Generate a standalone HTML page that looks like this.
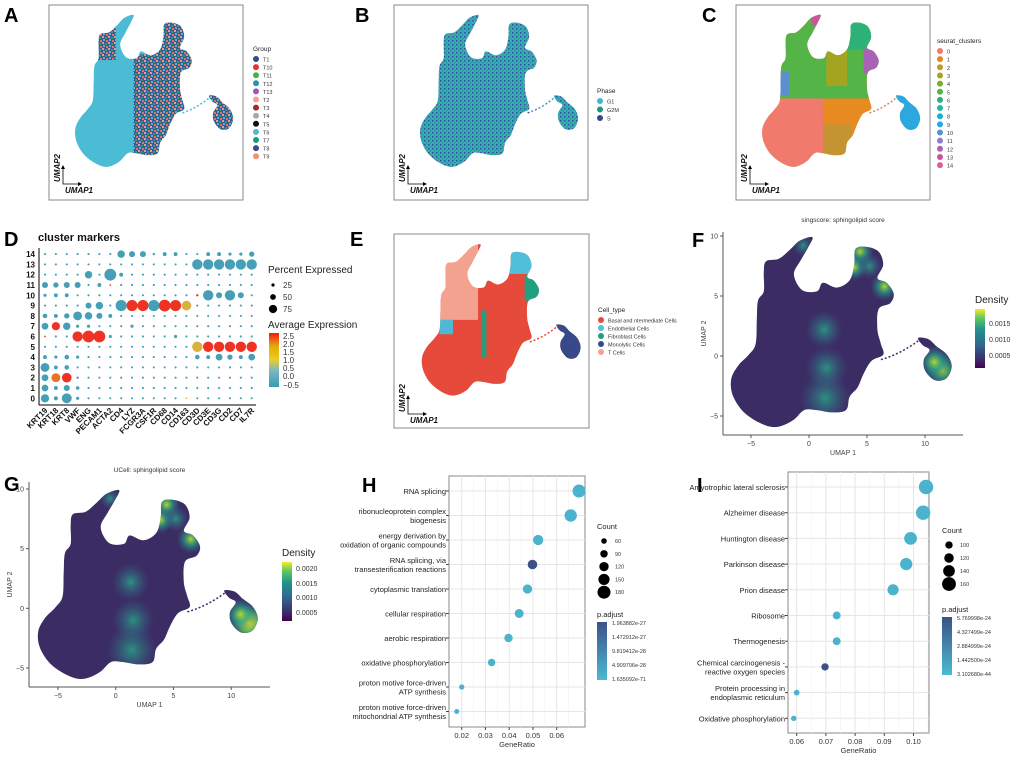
<!DOCTYPE html>
<html><head><meta charset="utf-8"><style>
body{margin:0;background:#fff;}
svg{display:block;font-family:"Liberation Sans",Arial,sans-serif;}
</style></head><body>
<svg id="fig" width="1020" height="757" viewBox="0 0 1020 757" xmlns="http://www.w3.org/2000/svg">
<defs>
<pattern id="patA" width="6" height="6" patternUnits="userSpaceOnUse">
<rect width="6" height="6" fill="#3a5a96"/><rect x="0" y="0" width="2" height="2" fill="#f29a80"/><rect x="3" y="1" width="2" height="2" fill="#2a9d7e"/><rect x="1" y="3" width="2" height="2" fill="#4bb8d0"/><rect x="4" y="4" width="2" height="2" fill="#e8705f"/><rect x="3" y="3" width="1" height="1" fill="#a02b2e"/>
</pattern>
<pattern id="patB" width="4" height="4" patternUnits="userSpaceOnUse">
<rect width="4" height="4" fill="#3aa8c4"/><rect x="0" y="0" width="1.5" height="1.5" fill="#2e5590"/><rect x="2" y="2" width="1.5" height="1.5" fill="#259a8a"/>
</pattern>
<radialGradient id="hot"><stop offset="0" stop-color="#b8de29" stop-opacity="0.95"/><stop offset="0.45" stop-color="#2aa386" stop-opacity="0.7"/><stop offset="1" stop-color="#2d708e" stop-opacity="0"/></radialGradient>
<radialGradient id="warm"><stop offset="0" stop-color="#2aa386" stop-opacity="0.85"/><stop offset="1" stop-color="#33638d" stop-opacity="0"/></radialGradient>
<radialGradient id="hotG"><stop offset="0" stop-color="#fde725"/><stop offset="0.5" stop-color="#5ec962" stop-opacity="0.8"/><stop offset="1" stop-color="#21918c" stop-opacity="0"/></radialGradient>
<linearGradient id="viridis" x1="0" y1="1" x2="0" y2="0"><stop offset="0" stop-color="#440154"/><stop offset="0.15" stop-color="#3b2f6b"/><stop offset="0.4" stop-color="#31688e"/><stop offset="0.65" stop-color="#21918c"/><stop offset="0.85" stop-color="#5ec962"/><stop offset="1" stop-color="#fde725"/></linearGradient>
<linearGradient id="zissou" x1="0" y1="1" x2="0" y2="0"><stop offset="0" stop-color="#3b9ab2"/><stop offset="0.3" stop-color="#78b7c5"/><stop offset="0.5" stop-color="#ebcc2a"/><stop offset="0.75" stop-color="#e1af00"/><stop offset="0.85" stop-color="#ec7020"/><stop offset="1" stop-color="#f21a00"/></linearGradient>
<linearGradient id="padj" x1="0" y1="1" x2="0" y2="0"><stop offset="0" stop-color="#4bbad3"/><stop offset="1" stop-color="#3b5287"/></linearGradient>
</defs>
<g id="root"></g>
</svg>
<script>
// ---------- chart data ----------
const genes = ["KRT19","KRT18","KRT8","VWF","ENG","PECAM1","ACTA2","CD4","LYZ","FCGR3A","CSF1R","CD68","CD14","CD163","CD3D","CD3E","CD3G","CD2","CD7","IL7R"];
const clusters = [0,1,2,3,4,5,6,7,8,9,10,11,12,13,14];
const pctSpec = [
 {KRT19:50,KRT18:22,KRT8:62,VWF:15,CD163:5},
 {KRT19:40,KRT18:20,KRT8:35,VWF:18},
 {KRT19:40,KRT18:55,KRT8:60,VWF:10},
 {KRT19:55,KRT18:20,KRT8:25},
 {KRT19:20,KRT18:15,KRT8:25,VWF:15,CD3D:25,CD3E:20,CD3G:40,CD2:30,CD7:20,IL7R:40},
 {CD3D:65,CD3E:65,CD3G:65,CD2:65,CD7:65,IL7R:65},
 {KRT19:5,VWF:65,ENG:75,PECAM1:75,ACTA2:15,CD14:15},
 {KRT19:40,KRT18:50,KRT8:45,VWF:15,ENG:15,LYZ:15},
 {KRT19:25,KRT18:20,KRT8:30,VWF:55,ENG:45,PECAM1:35,ACTA2:20},
 {ENG:35,PECAM1:45,CD4:70,LYZ:70,FCGR3A:70,CSF1R:70,CD68:75,CD14:70,CD163:60},
 {KRT19:15,KRT18:20,KRT8:20,CD3D:10,CD3E:65,CD3G:35,CD2:65,CD7:35},
 {KRT19:35,KRT18:30,KRT8:35,VWF:35,PECAM1:20,ACTA2:5},
 {ENG:45,ACTA2:75,CD4:20},
 {CD3D:65,CD3E:65,CD3G:65,CD2:65,CD7:65,IL7R:65},
 {CD4:45,LYZ:35,FCGR3A:35,CSF1R:10,CD68:20,CD14:20,CD3E:20,CD3G:20,CD2:15,CD7:15,IL7R:30}
];
const exprSpec = [
 {CD163:1.2},{},{KRT18:2.0,KRT8:2.5},{},{},
 {CD3D:1.2,CD3E:2.5,CD3G:2.5,CD2:2.5,CD7:2.5,IL7R:2.5},
 {KRT19:2.5,VWF:2.5,ENG:2.5,PECAM1:2.5},
 {KRT18:2.5},{},
 {LYZ:2.5,FCGR3A:2.5,CD68:2.5,CD14:2.5,CD163:1.2},
 {CD3D:2.5},{ACTA2:2.5},{},{},{}
];
const hTerms = [["RNA splicing"],["ribonucleoprotein complex","biogenesis"],["energy derivation by","oxidation of organic compounds"],["RNA splicing, via","transesterification reactions"],["cytoplasmic translation"],["cellular respiration"],["aerobic respiration"],["oxidative phosphorylation"],["proton motive force-driven","ATP synthesis"],["proton motive force-driven","mitochondrial ATP synthesis"]];
const hRatio = [0.0694,0.0659,0.0522,0.0498,0.0477,0.0442,0.0397,0.0326,0.0200,0.0179];
const hCount = [180,170,135,125,120,115,105,90,55,50];
const hPadj = [0.1,0.1,0.1,1.0,0.1,0.1,0.1,0.1,0.1,0.1];
const hTicks = [0.02,0.03,0.04,0.05,0.06];
const iTerms = [["Amyotrophic lateral sclerosis"],["Alzheimer disease"],["Huntington disease"],["Parkinson disease"],["Prion disease"],["Ribosome"],["Thermogenesis"],["Chemical carcinogenesis -","reactive oxygen species"],["Protein processing in","endoplasmic reticulum"],["Oxidative phosphorylation"]];
const iRatio = [0.1043,0.1033,0.0990,0.0975,0.0930,0.0737,0.0737,0.0697,0.0600,0.0590];
const iCount = [165,165,150,145,135,105,105,100,85,82];
const iPadj = [0.1,0.1,0.1,0.1,0.1,0.1,0.1,1.0,0.1,0.1];
const iTicks = [0.06,0.07,0.08,0.09,0.10];

const NS="http://www.w3.org/2000/svg";
const root=document.getElementById('root');
function el(tag,attrs,parent,text){const e=document.createElementNS(NS,tag);for(const k in attrs)e.setAttribute(k,attrs[k]);if(text!==undefined)e.textContent=text;(parent||root).appendChild(e);return e;}
function txt(x,y,s,size,opts,parent){const o=Object.assign({x:x,y:y,'font-size':size,fill:'#222'},opts||{});return el('text',o,parent,s);}

[["A",4,22],["B",355,22],["C",702,22],["D",4,246],["E",350,246],["F",692,247],["G",4,491],["H",362,492],["I",697,492]].forEach(l=>{
 const t=txt(l[1],l[2],l[0],20,{'font-weight':'bold',fill:'#000'});
 
 
});

// ---------- UMAP shape (smoothed) ----------
const mainPts=[[-3.3,-5.9],[-4.6,-5.4],[-5.8,-4.5],[-6.6,-3.2],[-6.7,-1.9],[-6.1,-0.8],[-5.2,0.1],[-4.6,1.0],[-4.5,3.0],[-4.4,4.6],[-3.9,5.4],[-3.9,7.0],[-3.7,7.9],[-2.6,8.1],[-1.6,8.9],[-0.8,9.6],[0.3,9.9],[-0.1,9.0],[-0.7,8.0],[-1.3,6.8],[-0.6,5.5],[0.7,5.4],[1.2,6.1],[2.4,5.7],[3.5,6.3],[3.9,7.6],[4.0,8.9],[4.9,9.1],[6.0,8.7],[6.4,7.6],[5.9,6.5],[6.7,6.1],[7.3,5.2],[7.0,4.4],[6.0,3.9],[5.9,2.2],[6.2,1.0],[6.4,0.1],[5.4,-0.4],[4.7,-1.5],[4.2,-2.6],[3.5,-3.4],[3.2,-4.5],[2.0,-4.7],[0.6,-4.5],[-0.4,-4.5],[-1.3,-5.3],[-2.3,-5.8]];
const islPts=[[9.4,1.5],[10.3,1.4],[11.0,0.8],[11.9,0.1],[12.3,-0.9],[11.8,-1.9],[10.8,-2.0],[10.0,-1.2],[9.9,-0.3],[10.4,0.5],[9.8,0.9]];
function path(pts,x0,y0,sx,sy){
 const P=pts.map(p=>[x0+p[0]*sx,y0-p[1]*sy]);const n=P.length;
 let d='M'+P[0][0].toFixed(1)+','+P[0][1].toFixed(1);
 for(let i=0;i<n;i++){const p0=P[(i-1+n)%n],p1=P[i],p2=P[(i+1)%n],p3=P[(i+2)%n];
  const c1=[p1[0]+(p2[0]-p0[0])/6,p1[1]+(p2[1]-p0[1])/6],c2=[p2[0]-(p3[0]-p1[0])/6,p2[1]-(p3[1]-p1[1])/6];
  d+='C'+c1[0].toFixed(1)+','+c1[1].toFixed(1)+' '+c2[0].toFixed(1)+','+c2[1].toFixed(1)+' '+p2[0].toFixed(1)+','+p2[1].toFixed(1);}
 return d+'Z';}
function umap(id,x0,y0,sx,sy,fill,g){
 el('clipPath',{id:id},g);
 const cp=g.lastChild;
 el('path',{d:path(mainPts,x0,y0,sx,sy)},cp);
 el('path',{d:path(islPts,x0,y0,sx,sy)},cp);
 const cg=el('g',{'clip-path':'url(#'+id+')'},g);
 el('rect',{x:x0-8*sx,y:y0-11*sy,width:22*sx,height:18*sy,fill:fill},cg);
 el('path',{d:`M${x0+6.2*sx},${y0+0.3*sy}Q${x0+8*sx},${y0-0.2*sy} ${x0+9.6*sx},${y0-1.4*sy}`,fill:'none',stroke:fill,'stroke-width':1.5,'stroke-dasharray':'2 2'},g);
 return cg;
}
function region(cg,x0,y0,sx,sy,xa,ya,xb,yb,fill){el('rect',{x:x0+xa*sx,y:y0-yb*sy,width:(xb-xa)*sx,height:(yb-ya)*sy,fill:fill},cg);}
function frame(x,y,w,h,g,name){const r=el('rect',{x:x,y:y,width:w,height:h,fill:'none',stroke:'#888','stroke-width':1},g);}
function arrows(x,y,g){
 el('path',{d:`M${x},${y-17}L${x},${y}L${x+17},${y}`,fill:'none',stroke:'#000','stroke-width':0.8},g);
 el('path',{d:`M${x-2},${y-15}L${x},${y-19}L${x+2},${y-15}Z M${x+15},${y-2}L${x+19},${y}L${x+15},${y+2}Z`,fill:'#000'},g);
 txt(x+2,y+9,'UMAP1',8,{'font-style':'italic','font-weight':'bold',fill:'#111'},g);
 txt(0,0,'UMAP2',8,{'font-style':'italic','font-weight':'bold',fill:'#111',transform:`translate(${x-3},${y-2}) rotate(-90)`},g);
}
function catLegend(x,y,title,items,step,g,name){
 const lg=el('g',{},g);
 txt(x,y,title,6.5,{},lg);
 items.forEach((it,i)=>{el('circle',{cx:x+3,cy:y+8+i*step,r:3,fill:it[1]},lg);txt(x+10,y+10.5+i*step,it[0],5.5,{fill:'#333'},lg);});
}

// Panel A
const gA=el('g',{});
frame(49,5,194,195,gA,'panel-a-frame');
{const cg=umap('clA',131,110,8.3,9.6,'#4bbcd4',gA);region(cg,131,110,8.3,9.6,0.3,-7,14,5.8,'url(#patA)');region(cg,131,110,8.3,9.6,2.5,5.8,14,11,'url(#patA)');region(cg,131,110,8.3,9.6,-4.5,5.2,-1.8,9,'url(#patA)');}
arrows(63,184,gA);
catLegend(253,51,'Group',[["T1","#2d4e8e"],["T10","#e8322e"],["T11","#4daf4a"],["T12","#2893b8"],["T13","#9a5bb0"],["T2","#f4a28c"],["T3","#a02b2e"],["T4","#a8a8a8"],["T5","#111111"],["T6","#4bbcd4"],["T7","#1a9a7e"],["T8","#3a4a8c"],["T9","#f28f74"]],8.1,gA,'group-legend');

// Panel B
const gB=el('g',{});
frame(394,5,194,195,gB,'panel-b-frame');
umap('clB',476,110,8.3,9.6,'url(#patB)',gB);
arrows(408,184,gB);
catLegend(597,93,'Phase',[["G1","#3fb6d2"],["G2M","#1a9a7e"],["S","#34488a"]],8.5,gB,'phase-legend');

// Panel C
const gC=el('g',{});
frame(736,5,194,195,gC,'panel-c-frame');
const cCols=["#f8766d","#e8861a","#c59a2a","#a3a520","#7cae2c","#4db848","#2eb178","#22b8a4","#14b6cc","#2aa8e0","#5a8fd0","#8e80c8","#a963b5","#c9559a","#e05b9e"];
{const x0=818,y0=110,sx=8.3,sy=9.6;const cg=umap('clC',x0,y0,sx,sy,'#f07a6b',gC);
 region(cg,x0,y0,sx,sy,0.6,-7,8,3.5,'#e88a22');region(cg,x0,y0,sx,sy,0.6,-7,4,-1.5,'#c49433');
 region(cg,x0,y0,sx,sy,-5,1.2,8,11,'#55b448');region(cg,x0,y0,sx,sy,1,2.5,3.5,6.5,'#a3a520');
 region(cg,x0,y0,sx,sy,3.5,6.3,7,10,'#2eb178');region(cg,x0,y0,sx,sy,5.5,3.8,8,6.4,'#a963b5');
 region(cg,x0,y0,sx,sy,-5,1.5,-3.5,4,'#5a8fd0');region(cg,x0,y0,sx,sy,-0.8,8.8,1,11,'#c9559a');
 region(cg,x0,y0,sx,sy,8.5,-3,13,2,'#2aa8e0');}
arrows(750,184,gC);
catLegend(937,43,'seurat_clusters',cCols.map((c,i)=>[String(i),c]),8.15,gC,'cluster-legend');

// Panel E
const gE=el('g',{});
frame(394,234,195,194,gE,'panel-e-frame');
{const x0=478,y0=339,sx=8.34,sy=9.56;const cg=umap('clE',x0,y0,sx,sy,'#e64a3b',gE);
 region(cg,x0,y0,sx,sy,-5,2,0,11,'#f4a290');region(cg,x0,y0,sx,sy,-4.6,0.5,-3,2,'#4fb8d4');
 region(cg,x0,y0,sx,sy,3.5,6.8,7,10,'#4fc0d8');region(cg,x0,y0,sx,sy,5.6,4,8,6.6,'#20a080');
 region(cg,x0,y0,sx,sy,0.4,-2,1.0,3,'#20a080');region(cg,x0,y0,sx,sy,8.5,-3,13,2,'#36498a');}
arrows(408,414,gE);
catLegend(598,312,'Cell_type',[["Basal and ntermediate Cells","#e64a3b"],["Endothelial Cells","#4fc0d8"],["Fibroblast Cells","#20a080"],["Monolytic Cells","#36498a"],["T Cells","#f4a290"]],8,gE,'celltype-legend');

// Density panels F and G
function densityPanel(id,name,title,ax,ay,aright,atop,x0,y0,sx,sy,cbx,cby,cbh,cbLabels,hotId){
 const g=el('g',{});
 txt((ax+aright)/2,atop-10,title,6.5,{'text-anchor':'middle',fill:'#333'},g);
 const cg=umap(id,x0,y0,sx,sy,'#3b2d63',g);
 const spots=[[1.4,-3.5,2.2,'warm'],[1.3,2.2,1.6,'warm'],[1.5,-1,1.8,'warm'],[4.4,8.7,1.2,'hot'],[3.9,7.4,1.1,'hot'],[5.2,7.5,1.1,'warm'],[6.5,5.8,1.2,'hot'],[-0.5,9.2,0.9,'warm'],[11.5,-1.2,1.6,hotId],[10.8,-0.5,1.4,'hot']];
 spots.forEach(s=>el('ellipse',{cx:x0+s[0]*sx,cy:y0-s[1]*sy,rx:s[2]*sx,ry:s[2]*sy,fill:'url(#'+s[3]+')'},cg));
 el('line',{x1:ax,y1:ay,x2:aright,y2:ay,stroke:'#555','stroke-width':1},g);
 el('line',{x1:ax,y1:ay,x2:ax,y2:atop,stroke:'#555','stroke-width':1},g);
 [-5,0,5,10].forEach(v=>{const x=x0+v*sx;el('line',{x1:x,y1:ay,x2:x,y2:ay+3,stroke:'#555'},g);txt(x,ay+11,v<0?'−5':String(v),7,{'text-anchor':'middle',fill:'#444'},g);});
 [-5,0,5,10].forEach(v=>{const y=y0-v*sy;el('line',{x1:ax-3,y1:y,x2:ax,y2:y,stroke:'#555'},g);txt(ax-5,y+2.5,v<0?'−5':String(v),7,{'text-anchor':'end',fill:'#444'},g);});
 txt((ax+aright)/2,ay+20,'UMAP 1',7,{'text-anchor':'middle',fill:'#444'},g);
 txt(0,0,'UMAP 2',7,{'text-anchor':'middle',fill:'#444',transform:`translate(${ax-17},${(ay+atop)/2}) rotate(-90)`},g);
 txt(cbx,cby-6,'Density',10,{fill:'#222'},g);
 el('rect',{x:cbx,y:cby,width:10,height:cbh,fill:'url(#viridis)'},g);
 cbLabels.forEach(l=>txt(cbx+14,cby+l[1],l[0],7,{fill:'#333'},g));
}
densityPanel('clF','panel-f-singscore-density','singscore: sphingolipid score',723,435,963,232,809,356,11.6,12,975,309,59,[["0.0015",17],["0.0010",33],["0.0005",49]],'hot');
densityPanel('clG','panel-g-ucell-density','UCell: sphingolipid score',29,687,270,482,115.7,608.3,11.55,11.93,282,562,59,[["0.0020",9],["0.0015",24],["0.0010",38],["0.0005",53]],'hotG');

// Panel D dot plot
{const g=el('g',{});
 txt(38,241,'cluster markers',11,{'font-weight':'bold',fill:'#111'},g);
 const colX=i=>45+i*10.88, rowY=r=>398.3-r*10.3;
 const rad=p=>0.5+p*0.072;
 function ecol(e){const stops=[[-0.5,[59,154,178]],[0.3,[100,172,192]],[1.0,[215,188,70]],[1.8,[232,140,40]],[2.5,[238,50,35]]];
  for(let i=1;i<stops.length;i++){if(e<=stops[i][0]){const a=stops[i-1],b=stops[i],t=(e-a[0])/(b[0]-a[0]);return 'rgb('+a[1].map((c,k)=>Math.round(c+(b[1][k]-c)*t)).join(',')+')';}}return 'rgb(238,50,35)';}
 el('line',{x1:39,y1:248,x2:39,y2:405,stroke:'#000','stroke-width':1},g);
 el('line',{x1:39,y1:405,x2:256,y2:405,stroke:'#000','stroke-width':1},g);
 clusters.forEach(r=>{
  txt(35,rowY(r)+3,String(r),8,{'text-anchor':'end','font-weight':'bold',fill:'#111'},g);
  genes.forEach((gn,c)=>{
   const p=pctSpec[r][gn]!==undefined?pctSpec[r][gn]:8;
   const e=exprSpec[r][gn]!==undefined?exprSpec[r][gn]:-0.3;
   const d=el('circle',{cx:colX(c),cy:rowY(r),r:rad(p),fill:ecol(e)},g);
   
   
  });
 });
 genes.forEach((gn,c)=>{txt(0,0,gn,8,{'text-anchor':'end','font-weight':'bold',fill:'#111',transform:`translate(${colX(c)+3},${411}) rotate(-45)`},g);});
 txt(268,273,'Percent Expressed',10,{fill:'#222'},g);
 [[25,285],[50,297],[75,309]].forEach(l=>{el('circle',{cx:273,cy:l[1],r:rad(l[0])*0.7,fill:'#000'},g);txt(283,l[1]+3,String(l[0]),8,{fill:'#333'},g);});
 txt(268,328,'Average Expression',10,{fill:'#222'},g);
 el('rect',{x:269,y:333,width:10,height:54,fill:'url(#zissou)'},g);
 [["2.5",337],["2.0",345],["1.5",353],["1.0",361],["0.5",369],["0.0",377],["−0.5",386]].forEach(l=>txt(283,l[1]+2,l[0],8,{fill:'#333'},g));
}

// Enrichment dot plots H and I
function enrich(name,terms,ratio,count,padj,ticks,box,xMin,xStep,lblX,row0,rowStep,rScale,leg){
 const g=el('g',{});
 const xs=v=>xMin+(v-ticks[0])/(ticks[1]-ticks[0])*xStep;
 el('rect',{x:box[0],y:box[1],width:box[2]-box[0],height:box[3]-box[1],fill:'#fff',stroke:'#888','stroke-width':1},g);
 for(let i=0;i<ticks.length;i++){const x=xs(ticks[i]);el('line',{x1:x,y1:box[1],x2:x,y2:box[3],stroke:'#e6e6e6','stroke-width':1},g);
  const xm=x+xStep/2;if(xm<box[2])el('line',{x1:xm,y1:box[1],x2:xm,y2:box[3],stroke:'#f2f2f2','stroke-width':0.6},g);}
 terms.forEach((t,i)=>{const y=row0+i*rowStep;el('line',{x1:box[0],y1:y,x2:box[2],y2:y,stroke:'#e6e6e6','stroke-width':1},g);
  el('line',{x1:box[0]-3,y1:y,x2:box[0],y2:y,stroke:'#444'},g);
  t.forEach((s,k)=>txt(lblX,y+3-(t.length-1)*4.5+k*9,s,7.5,{'text-anchor':'end',fill:'#222'},g));});
 ticks.forEach(v=>{const x=xs(v);el('line',{x1:x,y1:box[3],x2:x,y2:box[3]+3,stroke:'#444'},g);txt(x,box[3]+11,v.toFixed(2),7.5,{'text-anchor':'middle',fill:'#333'},g);});
 txt((box[0]+box[2])/2,box[3]+20,'GeneRatio',7.5,{'text-anchor':'middle',fill:'#333'},g);
 terms.forEach((t,i)=>{const c=el('circle',{cx:xs(ratio[i]),cy:row0+i*rowStep,r:rScale(count[i]),fill:padj[i]>0.5?'#3b5287':'#4bb3cc'},g);
  });
 txt(leg.x,leg.cy,'Count',7.5,{fill:'#222'},g);
 leg.counts.forEach((c,k)=>{const y=leg.cy+12+k*leg.cstep;el('circle',{cx:leg.x+7,cy:y,r:rScale(c),fill:'#000'},g);txt(leg.x+18,y+2,String(c),5.5,{fill:'#333'},g);});
 txt(leg.x,leg.py,'p.adjust',7.5,{fill:'#222'},g);
 el('rect',{x:leg.x,y:leg.py+5,width:10,height:58,fill:'url(#padj)'},g);
 leg.plabels.forEach((s,k)=>txt(leg.x+15,leg.py+8+k*14,s,5.5,{fill:'#333'},g));
}
enrich('panel-h-go-enrichment',hTerms,hRatio,hCount,hPadj,hTicks,[449,476,585,727],461.7,23.75,446,491,24.5,c=>2.5+(c-50)/130*4,
 {x:597,cy:529,counts:[60,90,120,150,180],cstep:12.8,py:617,plabels:["1.963882e-27","1.472912e-27","9.819412e-28","4.909706e-28","1.635092e-71"]});
enrich('panel-i-kegg-enrichment',iTerms,iRatio,iCount,iPadj,iTicks,[788,472,929,733],796.7,29.2,785,487,25.7,c=>2.6+(c-80)/85*4.6,
 {x:942,cy:533,counts:[100,120,140,160],cstep:13,py:612,plabels:["5.769998e-24","4.327499e-24","2.884999e-24","1.442500e-24","3.102680e-44"]});
</script>
</body></html>
